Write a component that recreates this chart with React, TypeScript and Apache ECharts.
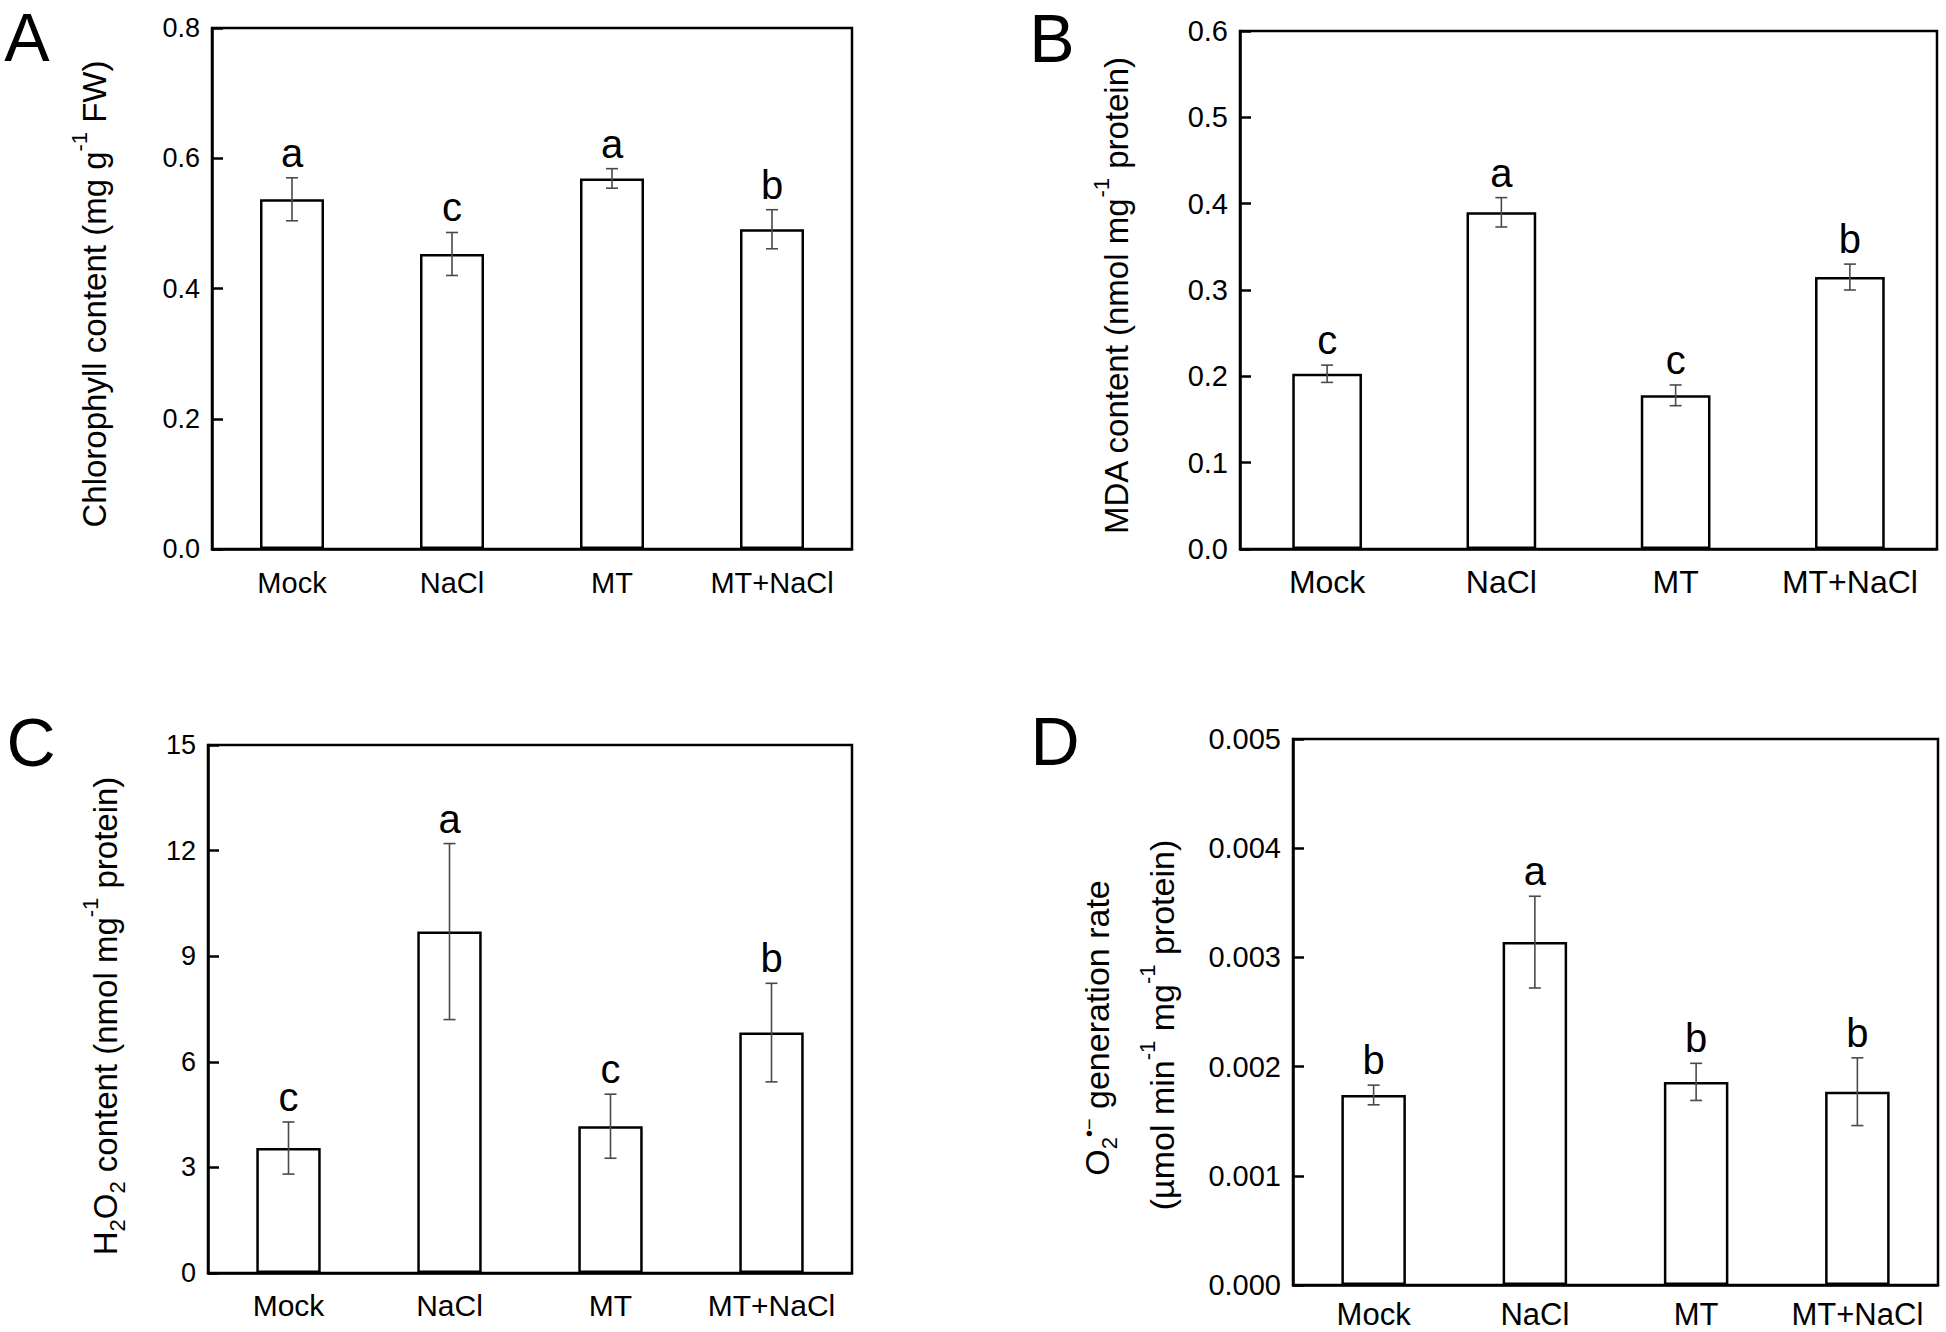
import React, { useEffect, useRef } from 'react';
import * as echarts from 'echarts';

const FONT = '"Liberation Sans", Arial, Helvetica, sans-serif';

const categories = ['Mock', 'NaCl', 'MT', 'MT+NaCl'];

// Panel A – chlorophyll
const chlValues = [0.537, 0.453, 0.569, 0.491];
const chlErrors = [0.033, 0.033, 0.015, 0.03];
const chlLetters = ['a', 'c', 'a', 'b'];
const chlAxis = { min: 0, max: 0.8, interval: 0.2, decimals: 1 };

// Panel B – MDA
const mdaValues = [0.203, 0.39, 0.178, 0.315];
const mdaErrors = [0.01, 0.017, 0.012, 0.015];
const mdaLetters = ['c', 'a', 'c', 'b'];
const mdaAxis = { min: 0, max: 0.6, interval: 0.1, decimals: 1 };

// Panel C – H2O2
const h2o2Values = [3.55, 9.7, 4.17, 6.83];
const h2o2Errors = [0.74, 2.5, 0.91, 1.4];
const h2o2Letters = ['c', 'a', 'c', 'b'];
const h2o2Axis = { min: 0, max: 15, interval: 3, decimals: 0 };

// Panel D – O2•− generation rate
const o2Values = [0.00174, 0.00314, 0.00186, 0.00177];
const o2Errors = [0.00009, 0.00042, 0.00017, 0.00031];
const o2Letters = ['b', 'a', 'b', 'b'];
const o2Axis = { min: 0, max: 0.005, interval: 0.001, decimals: 3 };

const panels = [
  { values: chlValues, errors: chlErrors, letters: chlLetters, axis: chlAxis,
    grid: { left: 212, top: 28, width: 640, height: 521 }, tickFont: 27, catFont: 29, catMargin: 19 },
  { values: mdaValues, errors: mdaErrors, letters: mdaLetters, axis: mdaAxis,
    grid: { left: 1240, top: 31, width: 697, height: 518 }, tickFont: 29, catFont: 32, catMargin: 17 },
  { values: h2o2Values, errors: h2o2Errors, letters: h2o2Letters, axis: h2o2Axis,
    grid: { left: 208, top: 745, width: 644, height: 528 }, tickFont: 27, catFont: 30, catMargin: 17 },
  { values: o2Values, errors: o2Errors, letters: o2Letters, axis: o2Axis,
    grid: { left: 1293, top: 739, width: 645, height: 546 }, tickFont: 29, catFont: 31, catMargin: 14 },
];

const titleRich = (size: number) => ({
  m: { fontSize: size, lineHeight: 60, fontFamily: FONT, fill: '#000' },
  sup: { fontSize: 22, verticalAlign: 'top', padding: [4, 0, 0, 0], fontFamily: FONT, fill: '#000' },
  sub: { fontSize: 22, verticalAlign: 'bottom', padding: [0, 0, 7, 0], fontFamily: FONT, fill: '#000' },
  rad: { fontSize: 20, verticalAlign: 'top', padding: [12, 0, 0, 0], fontFamily: FONT, fill: '#000' },
});

const titles = [
  { text: '{m|Chlorophyll content (mg g}{sup|-1}{m| FW)}', x: 94, y: 294, size: 33 },
  { text: '{m|MDA content (nmol mg}{sup|-1}{m| protein)}', x: 1116, y: 296, size: 33 },
  { text: '{m|H}{sub|2}{m|O}{sub|2}{m| content (nmol mg}{sup|-1}{m| protein)}', x: 105, y: 1016, size: 33 },
  { text: '{m|O}{sub|2}{rad|•−}{m| generation rate}', x: 1097, y: 1028, size: 34 },
  { text: '{m|(µmol min}{sup|-1}{m| mg}{sup|-1}{m| protein)}', x: 1162, y: 1025, size: 34 },
];

const panelLetters = [
  { text: 'A', x: 27, y: 37 },
  { text: 'B', x: 1052, y: 38 },
  { text: 'C', x: 31, y: 742 },
  { text: 'D', x: 1055, y: 741 },
];

export default function App() {
  const ref = useRef<HTMLDivElement>(null);

  useEffect(() => {
    if (!ref.current) return;
    const chart = echarts.init(ref.current, undefined, { renderer: 'svg' });

    const barSeries = panels.map((p, i) => ({
      type: 'bar',
      xAxisIndex: i,
      yAxisIndex: i,
      data: p.values,
      barWidth: '40%',
      itemStyle: { color: '#fff', borderColor: '#000', borderWidth: 2.5 },
      z: 2,
    }));

    const errSeries = panels.map((p, i) => ({
      type: 'custom',
      xAxisIndex: i,
      yAxisIndex: i,
      z: 5,
      data: p.values.map((v, k) => [k, v, p.errors[k]]),
      renderItem: (params: any, api: any) => {
        const x = api.value(0);
        const v = api.value(1);
        const e = api.value(2);
        const top = api.coord([x, v + e]);
        const bot = api.coord([x, v - e]);
        const half = 6;
        const ls = { stroke: '#4a4a4a', lineWidth: 1.6 };
        return {
          type: 'group',
          children: [
            { type: 'line', shape: { x1: top[0], y1: top[1], x2: bot[0], y2: bot[1] }, style: ls },
            { type: 'line', shape: { x1: top[0] - half, y1: top[1], x2: top[0] + half, y2: top[1] }, style: ls },
            { type: 'line', shape: { x1: bot[0] - half, y1: bot[1], x2: bot[0] + half, y2: bot[1] }, style: ls },
            {
              type: 'text',
              x: top[0],
              y: top[1] - 25,
              style: {
                text: p.letters[params.dataIndex],
                fontSize: 40,
                fontFamily: FONT,
                fill: '#000',
                align: 'center',
                verticalAlign: 'middle',
              },
            },
          ],
        };
      },
    }));

    const graphic: any[] = [];
    titles.forEach((t) => {
      graphic.push({
        type: 'text',
        x: t.x,
        y: t.y,
        rotation: Math.PI / 2,
        style: {
          text: t.text,
          rich: titleRich(t.size),
          fontSize: t.size,
          fontFamily: FONT,
          fill: '#000',
          align: 'center',
          verticalAlign: 'middle',
        },
      });
    });
    panelLetters.forEach((l) => {
      graphic.push({
        type: 'text',
        x: l.x,
        y: l.y,
        style: {
          text: l.text,
          fontSize: 68,
          fontFamily: FONT,
          fill: '#000',
          align: 'center',
          verticalAlign: 'middle',
        },
      });
    });

    const option: any = {
      animation: false,
      backgroundColor: '#fff',
      grid: panels.map((p) => ({
        ...p.grid,
        show: true,
        borderColor: '#000',
        borderWidth: 2.5,
        backgroundColor: 'transparent',
        containLabel: false,
      })),
      xAxis: panels.map((p, i) => ({
        gridIndex: i,
        type: 'category',
        data: categories,
        boundaryGap: true,
        axisLine: { show: true, lineStyle: { color: '#000', width: 2.5 } },
        axisTick: { show: false },
        splitLine: { show: false },
        axisLabel: {
          interval: 0,
          color: '#000',
          fontSize: p.catFont,
          lineHeight: p.catFont,
          fontFamily: FONT,
          margin: p.catMargin,
        },
      })),
      yAxis: panels.map((p, i) => ({
        gridIndex: i,
        type: 'value',
        min: p.axis.min,
        max: p.axis.max,
        interval: p.axis.interval,
        axisLine: { show: true, lineStyle: { color: '#000', width: 2.5 } },
        axisTick: { show: true, inside: true, length: 11, lineStyle: { color: '#000', width: 2.5 } },
        splitLine: { show: false },
        axisLabel: {
          color: '#000',
          fontSize: p.tickFont,
          fontFamily: FONT,
          margin: 12,
          formatter: (v: number) => v.toFixed(p.axis.decimals),
        },
      })),
      series: [...barSeries, ...errSeries],
      graphic,
    };

    chart.setOption(option);
    return () => chart.dispose();
  }, []);

  return (
    <div
      ref={ref}
      style={{ position: 'absolute', left: 0, top: 0, width: 1946, height: 1332, background: '#fff' }}
    />
  );
}
